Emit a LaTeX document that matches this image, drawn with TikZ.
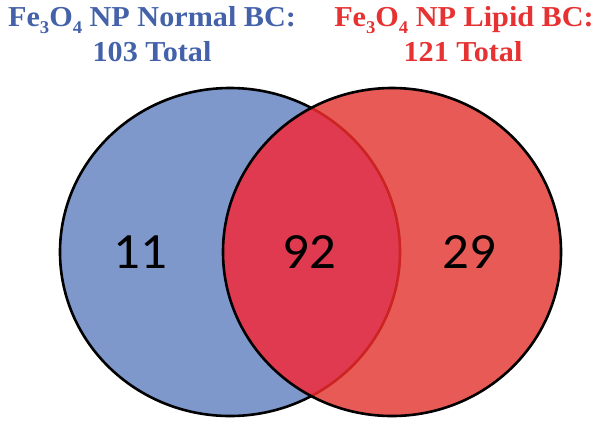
\documentclass[tikz,border=0pt]{standalone}
\usepackage{fontspec}
\setmainfont{Liberation Serif}
\newfontfamily\numfont{Carlito}
\definecolor{bluefill}{RGB}{127,152,204}
\definecolor{redfill}{RGB}{232,90,85}
\definecolor{interfill}{RGB}{224,58,80}
\definecolor{innerarc}{RGB}{205,35,35}
\definecolor{bluetext}{RGB}{68,98,170}
\definecolor{redtext}{RGB}{230,50,50}
\newcommand{\lowsub}[1]{\raisebox{-7bp}{\fontsize{18}{18}\selectfont #1}}
\tikzset{
  titletext/.style={font=\fontsize{29}{35}\selectfont\bfseries, inner sep=0pt, anchor=base, align=center, xscale=1.045},
  numtext/.style={font=\numfont\fontsize{51}{56}\selectfont, inner sep=0pt, text=black, xscale=1.04},
  outline/.style={draw=black, line width=2.6bp}
}
\begin{document}
\begin{tikzpicture}[x=1bp,y=-1bp]
\useasboundingbox (0,0) rectangle (600,424);
% circles
\coordinate (cl) at (230,252);
\coordinate (cr) at (392,252);
\def\rl{x radius=170bp, y radius=164bp}
\fill[bluefill] (cl) ellipse[x radius=170bp, y radius=164bp];
\draw[outline] (cl) ellipse[x radius=170bp, y radius=164bp];
\fill[redfill] (cr) ellipse[x radius=169bp, y radius=164bp];
\begin{scope}
  \clip (cl) ellipse[x radius=170bp, y radius=164bp];
  \fill[interfill] (cr) ellipse[x radius=169bp, y radius=164bp];
\end{scope}
\begin{scope}
  \clip (cr) ellipse[x radius=169bp, y radius=164bp];
  \draw[innerarc, line width=2.6bp] (cl) ellipse[x radius=170bp, y radius=164bp];
\end{scope}
\draw[outline] (cr) ellipse[x radius=169bp, y radius=164bp];
% titles
\node[titletext, text=bluetext] (t1) at (152,26) {Fe\lowsub{3}O\lowsub{4} NP Normal BC:};
\node[titletext, text=bluetext] (t2) at (152,61) {103 Total};
\node[titletext, text=redtext] (t3) at (464,26) {Fe\lowsub{3}O\lowsub{4} NP Lipid BC:};
\node[titletext, text=redtext] (t4) at (463,61) {121 Total};
% numbers
\node[numtext] (n1) at (140,252) {11};
\node[numtext] (n2) at (309,252) {92};
\node[numtext] (n3) at (469,252) {29};
\end{tikzpicture}
\end{document}
